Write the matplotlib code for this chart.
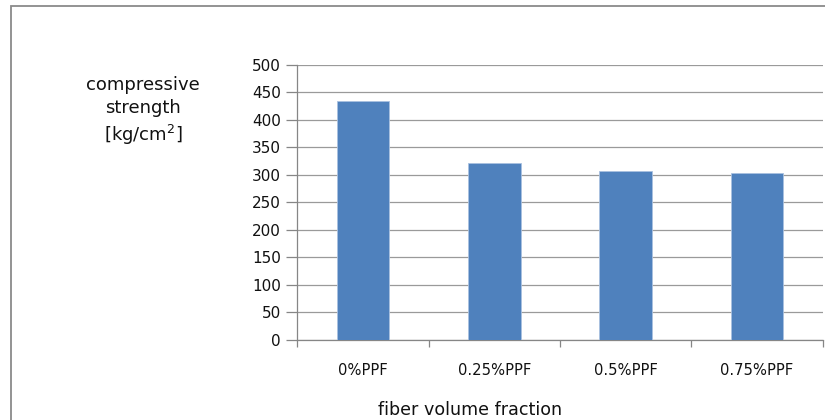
import matplotlib
matplotlib.use("Agg")
import matplotlib.pyplot as plt
from matplotlib.patches import Rectangle

categories = ["0%PPF", "0.25%PPF", "0.5%PPF", "0.75%PPF"]
strength = [433.5, 321.5, 306.5, 303.5]
y_ticks = [0, 50, 100, 150, 200, 250, 300, 350, 400, 450, 500]

plt.rcParams["font.family"] = ["DejaVu Sans"]
plt.rcParams["mathtext.fontset"] = "dejavusans"

W, H = 825, 420
fig = plt.figure(figsize=(W / 100, H / 100), dpi=100)
fig.patch.set_facecolor("white")

# outer chart frame (left and top edges visible)
fig.add_artist(Rectangle((11 / W, -0.05), 1.1, (H - 6) / H + 0.05,
                         transform=fig.transFigure, fill=False,
                         edgecolor="#8a8a8a", linewidth=1.3))

ax_l, ax_r = 297.4 / W, 822.6 / W
ax_b, ax_t = (H - 340) / H, (H - 64.7) / H
ax = fig.add_axes([ax_l, ax_b, ax_r - ax_l, ax_t - ax_b])

x = list(range(len(categories)))
ax.bar(x, strength, width=0.4, color="#4F81BD", edgecolor="#a9c1e0",
       linewidth=0.6, zorder=3)

ax.set_xlim(-0.5, len(categories) - 0.5)
ax.set_ylim(0, 500)
ax.set_yticks(y_ticks)
ax.set_yticklabels([str(v) for v in y_ticks], fontsize=11, color="#111111")
ax.yaxis.grid(True, color="#9a9a9a", linewidth=0.9, zorder=0)
ax.set_axisbelow(True)

# category ticks at the boundaries between groups
ax.set_xticks([i - 0.5 for i in range(len(categories) + 1)])
ax.set_xticklabels([])
ax.set_xticks(x, minor=True)
ax.set_xticklabels(categories, minor=True, fontsize=10.6, color="#111111")
ax.tick_params(axis="x", which="major", length=5, color="#868686", width=0.9)
ax.tick_params(axis="x", which="minor", length=0, pad=16.5)
ax.tick_params(axis="y", length=8, color="#868686", width=0.9, pad=4)

for side in ("top", "right"):
    ax.spines[side].set_visible(False)
for side in ("left", "bottom"):
    ax.spines[side].set_color("#868686")
    ax.spines[side].set_linewidth(0.9)

fig.text(143 / W, 1 - 111.5 / H, "compressive\nstrength\n[kg/cm$^2$]",
         ha="center", va="center", fontsize=13, linespacing=1.32,
         color="#111111")
fig.text(470 / W, 1 - 410 / H, "fiber volume fraction",
         ha="center", va="center", fontsize=12.6, color="#111111")

fig.savefig("out.png", dpi=100, facecolor="white")
